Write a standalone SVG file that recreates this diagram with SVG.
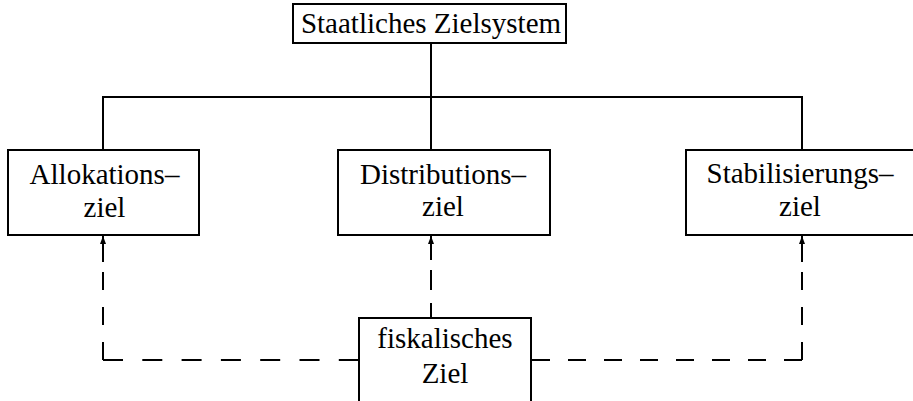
<svg xmlns="http://www.w3.org/2000/svg" width="913" height="401" viewBox="0 0 913 401">
<style>
.box{fill:#fff;stroke:#000;stroke-width:2}
.t{font-family:"Liberation Serif","Times New Roman",serif;font-size:29px;fill:#000;text-anchor:middle}
.ln{fill:none;stroke:#000;stroke-width:2}
.dv{fill:none;stroke:#000;stroke-width:2;stroke-dasharray:18 17}
.dh{fill:none;stroke:#000;stroke-width:2;stroke-dasharray:20 19.3}
.dh2{fill:none;stroke:#000;stroke-width:2;stroke-dasharray:18 18}
</style>
<defs>
<marker id="ah" markerWidth="8" markerHeight="10" refX="8" refY="3" orient="auto" markerUnits="userSpaceOnUse">
<path d="M0,0 L8,3 L0,6 Z" fill="#000"/>
</marker>
</defs>
<rect width="913" height="401" fill="#fff"/>
<g id="connectors">
<path class="ln" d="M431,43 V150 M103,150 V97 H802 V150"/>
<path class="dv" d="M103,360 V262"/>
<path class="dh" d="M103,360 H359"/>
<line class="ln" x1="103" y1="262" x2="103" y2="236" marker-end="url(#ah)"/>
<path class="dv" d="M802,360 V262"/>
<path class="dh2" d="M802,360 H531"/>
<line class="ln" x1="802" y1="262" x2="802" y2="236" marker-end="url(#ah)"/>
<path class="ln" d="M431,318 V303 M431,290 V270"/>
<line class="ln" x1="431" y1="260" x2="431" y2="236" marker-end="url(#ah)"/>
</g>
<g id="staatliches-zielsystem">
<rect class="box" x="293" y="4" width="273" height="39"/>
<text class="t" x="431" y="33">Staatliches Zielsystem</text>
</g>
<g id="allokationsziel">
<rect class="box" x="8" y="150" width="191" height="85"/>
<text class="t" x="104.5" y="184">Allokations–</text>
<text class="t" x="104.5" y="217">ziel</text>
</g>
<g id="distributionsziel">
<rect class="box" x="338" y="150" width="212" height="85"/>
<text class="t" x="443" y="184">Distributions–</text>
<text class="t" x="443" y="216">ziel</text>
</g>
<g id="stabilisierungsziel">
<rect class="box" x="686" y="150" width="232" height="85"/>
<text class="t" x="800" y="183">Stabilisierungs–</text>
<text class="t" x="800" y="216">ziel</text>
</g>
<g id="fiskalisches-ziel">
<rect class="box" x="359" y="318" width="172" height="100"/>
<text class="t" x="445" y="348">fiskalisches</text>
<text class="t" x="445" y="383">Ziel</text>
</g>
</svg>
